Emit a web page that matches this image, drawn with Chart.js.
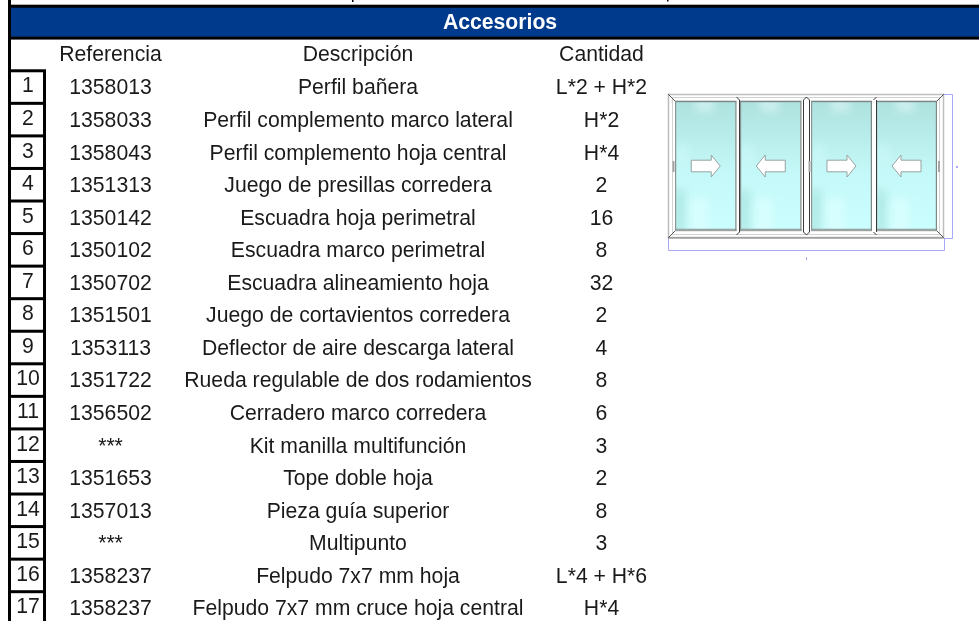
<!DOCTYPE html>
<html>
<head>
<meta charset="utf-8">
<title>Accesorios</title>
<script src="https://cdn.jsdelivr.net/npm/chart.js@4"></script>
<style>
    html, body { margin: 0; padding: 0; background: #fff; overflow: hidden; }
    canvas { display: block; }
</style>
</head>
<body>
<canvas id="myChart" width="979" height="621"></canvas>
<script>
const title = 'Accesorios'
const headers = ['Referencia', 'Descripción', 'Cantidad']
const rowNumbers = ['1', '2', '3', '4', '5', '6', '7', '8', '9', '10', '11', '12', '13', '14', '15', '16', '17']
const references = ['1358013', '1358033', '1358043', '1351313', '1350142', '1350102', '1350702', '1351501', '1353113', '1351722', '1356502', '***', '1351653', '1357013', '***', '1358237', '1358237']
const descriptions = [
    'Perfil bañera',
    'Perfil complemento marco lateral',
    'Perfil complemento hoja central',
    'Juego de presillas corredera',
    'Escuadra hoja perimetral',
    'Escuadra marco perimetral',
    'Escuadra alineamiento hoja',
    'Juego de cortavientos corredera',
    'Deflector de aire descarga lateral',
    'Rueda regulable de dos rodamientos',
    'Cerradero marco corredera',
    'Kit manilla multifunción',
    'Tope doble hoja',
    'Pieza guía superior',
    'Multipunto',
    'Felpudo 7x7 mm hoja',
    'Felpudo 7x7 mm cruce hoja central'
]
const quantities = ['L*2 + H*2', 'H*2', 'H*4', '2', '16', '8', '32', '2', '4', '8', '6', '3', '2', '8', '3', 'L*4 + H*6', 'H*4']

// column centres on the x scale, which runs 1:1 with the page width
const COL_NUM = 28, COL_REF = 110.5, COL_DESC = 358, COL_QTY = 601.5
const FONT = '"Liberation Sans", Arial, sans-serif'
const INK = '#1a1a1a'

// one row of the table is one unit on the y scale: 0 is the header row, -1 the blue band
const column = (x, texts, first) => texts.map((_, i) => ({ x: x, y: first + i }))

const tableDataset = (label, x, texts, first, opts) => ({
    label: label,
    data: column(x, texts, first),
    texts: texts,
    pointRadius: 0,
    cell: opts || {}
})

// draws the cell text at the points the library placed, and the ruling of the table
const tablePlugin = {
    id: 'table',
    beforeDatasetsDraw(chart) {
        const ctx = chart.ctx
        const xs = chart.scales.x, ys = chart.scales.y
        ctx.save()
        ctx.fillStyle = '#fff'
        ctx.fillRect(0, 0, chart.width, chart.height)

        // blue band
        ctx.fillStyle = '#003a8c'
        ctx.fillRect(xs.getPixelForValue(8), ys.getPixelForValue(-1) - 15, xs.getPixelForValue(979) - 8, 30)
        ctx.fillStyle = '#000'
        ctx.fillRect(xs.getPixelForValue(8), ys.getPixelForValue(-1.53), 979, 3)
        ctx.fillRect(xs.getPixelForValue(8), ys.getPixelForValue(-0.55), 979, 3)

        // left rule and number boxes
        ctx.fillRect(xs.getPixelForValue(8), 0, 3, chart.height)
        ctx.fillRect(xs.getPixelForValue(43), ys.getPixelForValue(0.5), 3, chart.height)
        rowNumbers.forEach((_, i) => {
            ctx.fillRect(xs.getPixelForValue(8), ys.getPixelForValue(i + 0.5) - 1.5, 38, 3)
        })

        // bits of the line cut off above the band
        ctx.fillRect(352, 0, 1.5, 2)
        ctx.fillRect(667, 0, 1.5, 1.5)

        drawWindow(ctx)
        ctx.restore()
    },
    afterDatasetsDraw(chart) {
        const ctx = chart.ctx
        ctx.save()
        ctx.textAlign = 'center'
        ctx.textBaseline = 'middle'
        chart.data.datasets.forEach((ds, d) => {
            const points = chart.getDatasetMeta(d).data
            ctx.font = (ds.cell.bold ? 'bold ' : '') + '21.2px ' + FONT
            ctx.fillStyle = ds.cell.color || INK
            points.forEach((p, i) => {
                ctx.fillText(ds.texts[i], p.x, p.y + (ds.cell.dy === undefined ? 1.5 : ds.cell.dy))
            })
        })
        ctx.restore()
    }
}

// the product picture at the right of the table
function drawWindow(ctx) {
    const panes = [[676, 59.5, 1], [741, 59.5, -1], [812, 59, 1], [877, 59, -1]]
    const top = 101.7, h = 129

    // blue dimension lines
    ctx.strokeStyle = '#a8a8f6'
    ctx.lineWidth = 1
    ctx.beginPath()
    ctx.moveTo(668.5, 238)
    ctx.lineTo(668.5, 250.5)
    ctx.lineTo(944.5, 250.5)
    ctx.lineTo(944.5, 238)
    ctx.moveTo(944, 94.5)
    ctx.lineTo(952.5, 94.5)
    ctx.lineTo(952.5, 238.5)
    ctx.lineTo(944, 238.5)
    ctx.stroke()
    ctx.fillStyle = '#a8a8f6'
    ctx.fillRect(806, 257, 1, 3)
    ctx.fillRect(956, 166, 2, 2)

    // frame
    ctx.fillStyle = '#fff'
    ctx.fillRect(668, 94, 276, 144)
    ctx.strokeStyle = '#bdbdbd'
    ctx.lineWidth = 1.5
    ctx.strokeRect(668.5, 94.5, 275, 143)
    ctx.strokeStyle = '#d2d2d2'
    ctx.lineWidth = 1
    ctx.beginPath()
    ctx.moveTo(672.5, 97.5); ctx.lineTo(672.5, 234.5)
    ctx.moveTo(939.5, 97.5); ctx.lineTo(939.5, 234.5)
    ctx.moveTo(672.5, 97.5); ctx.lineTo(939.5, 97.5)
    ctx.moveTo(672.5, 234.5); ctx.lineTo(939.5, 234.5)
    ctx.stroke()

    // mitred corners
    ctx.strokeStyle = '#555'
    ctx.beginPath()
    ctx.moveTo(668, 94); ctx.lineTo(676, 102)
    ctx.moveTo(944, 94); ctx.lineTo(936, 102)
    ctx.moveTo(668, 238); ctx.lineTo(676, 230)
    ctx.moveTo(944, 238); ctx.lineTo(936, 230)
    ctx.stroke()
    ctx.strokeStyle = '#808080'
    ctx.beginPath()
    ctx.moveTo(668.5, 238); ctx.lineTo(943.5, 238)
    ctx.stroke()

    panes.forEach(([x, w, dir]) => {
        const g = ctx.createLinearGradient(0, top, 0, top + h)
        g.addColorStop(0, '#aee2df')
        g.addColorStop(0.3, '#b9eeec')
        g.addColorStop(0.55, '#c5f9f9')
        g.addColorStop(1, '#cbfefe')
        ctx.fillStyle = g
        ctx.fillRect(x, top, w, h)

        // soft patches inside the glass
        ctx.save()
        ctx.beginPath()
        ctx.rect(x, top, w, h)
        ctx.clip()
        ctx.filter = 'blur(4px)'
        ctx.fillStyle = 'rgba(160,222,216,0.55)'
        ctx.fillRect(x - 4, top + 88, 14, h)
        ctx.fillStyle = 'rgba(225,255,255,0.55)'
        ctx.fillRect(x + 14, top + 96, 18, h)
        ctx.fillStyle = 'rgba(215,245,245,0.7)'
        ctx.fillRect(x + w * 0.32, top - 4, w * 0.32, 14)
        ctx.fillStyle = 'rgba(205,250,250,0.5)'
        ctx.fillRect(x - 2, top + 42, 16, 24)
        ctx.restore()

        // glass edge
        ctx.fillStyle = '#7c8785'
        ctx.fillRect(x - 1, top - 1, w + 2, 1.5)
        ctx.fillStyle = '#9aa5a3'
        ctx.fillRect(x - 1, top + h - 2, w + 2, 2.5)
        ctx.fillStyle = '#8b9694'
        ctx.fillRect(x - 1, top, 1.2, h)
        ctx.fillStyle = '#7c8785'
        ctx.fillRect(x + w - 0.2, top, 1.2, h)

        // arrow
        const cy = 166, mid = x + w / 2
        const tip = mid + dir * 14.5, base = mid + dir * 5.5, tail = mid - dir * 14.5
        ctx.beginPath()
        ctx.moveTo(tail, cy - 5.8)
        ctx.lineTo(base, cy - 5.8)
        ctx.lineTo(base, cy - 11)
        ctx.lineTo(tip, cy)
        ctx.lineTo(base, cy + 11)
        ctx.lineTo(base, cy + 5.8)
        ctx.lineTo(tail, cy + 5.8)
        ctx.closePath()
        ctx.fillStyle = '#fff'
        ctx.fill()
        ctx.strokeStyle = '#97a3a1'
        ctx.lineWidth = 1
        ctx.stroke()
    })

    // sash stiles between the panes
    ctx.strokeStyle = '#3a3a3a'
    ctx.lineWidth = 1
    ctx.beginPath()
    ctx.moveTo(736.5, 97); ctx.lineTo(739.5, 100); ctx.lineTo(739.5, 232); ctx.lineTo(736.5, 235)
    ctx.moveTo(806.5, 97); ctx.lineTo(809.5, 100); ctx.lineTo(809.5, 232); ctx.lineTo(806.5, 235)
    ctx.lineTo(803.5, 232); ctx.lineTo(803.5, 100); ctx.lineTo(806.5, 97)
    ctx.moveTo(876.5, 97); ctx.lineTo(873.5, 100)
    ctx.moveTo(873.5, 232); ctx.lineTo(876.5, 235)
    ctx.moveTo(876.5, 100); ctx.lineTo(876.5, 232)
    ctx.stroke()

    // handles
    ctx.fillStyle = '#a6a6a6'
    ;[672.5, 808.5, 938].forEach(x => ctx.fillRect(x, 161, 2, 11))
}

new Chart(document.getElementById('myChart').getContext('2d'), {
    type: 'scatter',
    data: {
        datasets: [
            tableDataset('Título', 500, [title], -1, { bold: true, color: '#fff', dy: 1 }),
            tableDataset('Cabeceras', COL_REF, [headers[0]], 0, { dy: 0.5 }),
            tableDataset('Descripción cabecera', COL_DESC, [headers[1]], 0, { dy: 0.5 }),
            tableDataset('Cantidad cabecera', COL_QTY, [headers[2]], 0, { dy: 0.5 }),
            tableDataset('Número', COL_NUM, rowNumbers, 1, { dy: -0.5 }),
            tableDataset('Referencia', COL_REF, references, 1),
            tableDataset('Descripción', COL_DESC, descriptions, 1),
            tableDataset('Cantidad', COL_QTY, quantities, 1)
        ]
    },
    options: {
        responsive: false,
        animation: false,
        layout: { padding: 0 },
        scales: {
            x: { type: 'linear', display: false, min: 0, max: 979 },
            y: { type: 'linear', display: false, reverse: true, min: -1.674, max: 17.4 }
        },
        plugins: {
            legend: { display: false },
            tooltip: { enabled: false }
        }
    },
    plugins: [tablePlugin]
})
</script>
</body>
</html>
